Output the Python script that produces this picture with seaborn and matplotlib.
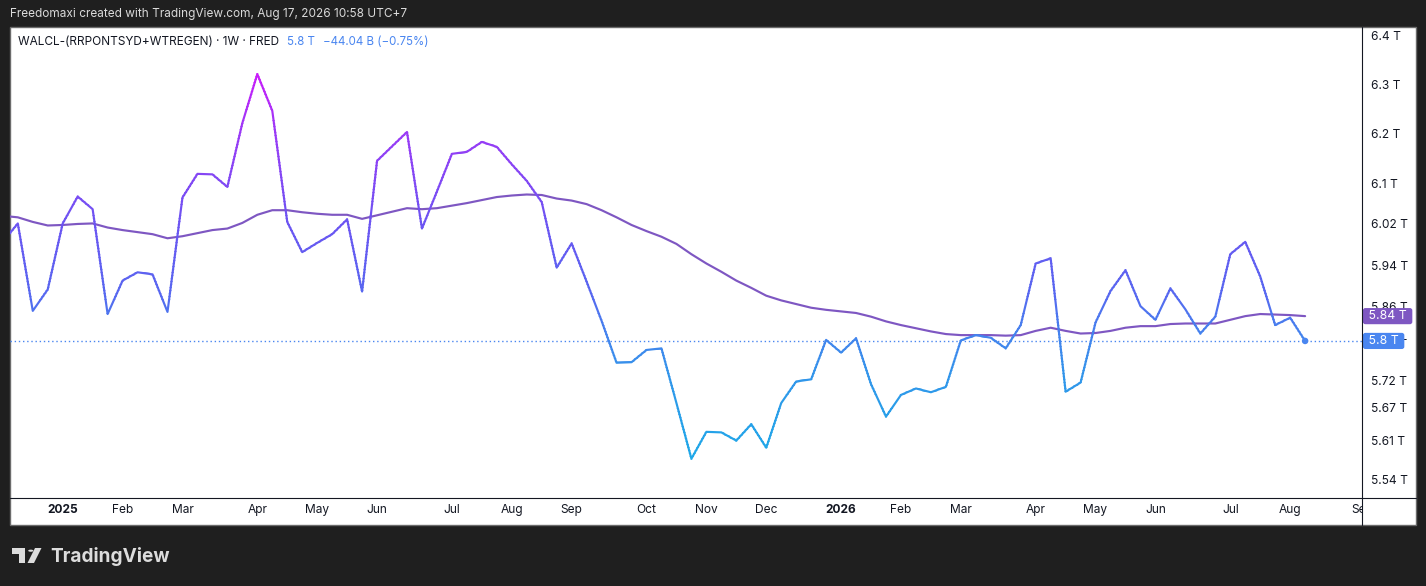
import matplotlib
matplotlib.use("Agg")
import matplotlib.pyplot as plt
import matplotlib.dates as mdates
from matplotlib.colors import LinearSegmentedColormap
from matplotlib.patches import Rectangle, Polygon, Circle
from matplotlib.lines import Line2D
from matplotlib.ticker import FixedLocator, NullLocator
from matplotlib.transforms import Bbox, blended_transform_factory, ScaledTranslation
import numpy as np
import pandas as pd
import seaborn as sns

sns.set_theme(style="white")
plt.rcParams["font.family"] = ["Inter", "DejaVu Sans"]

# weekly bars, WALCL-(RRPONTSYD+WTREGEN) in trillions
weeks = pd.date_range("2024-12-09", periods=88, freq="7D")
walcl = [
    5.985, 6.021, 5.852, 5.893, 6.021, 6.074, 6.049, 5.846, 5.910, 5.926,
    5.922, 5.850, 6.072, 6.119, 6.118, 6.093, 6.221, 6.321, 6.246, 6.024,
    5.965, 5.983, 6.000, 6.029, 5.889, 6.145, 6.174, 6.203, 6.011, 6.084,
    6.159, 6.163, 6.183, 6.173, 6.138, 6.105, 6.063, 5.935, 5.982, 5.908,
    5.833, 5.754, 5.755, 5.778, 5.781, 5.679, 5.577, 5.626, 5.625, 5.610,
    5.640, 5.597, 5.679, 5.719, 5.723, 5.797, 5.773, 5.800, 5.714, 5.654,
    5.694, 5.706, 5.699, 5.709, 5.796, 5.806, 5.801, 5.781, 5.825, 5.943,
    5.953, 5.700, 5.717, 5.830, 5.890, 5.930, 5.861, 5.835, 5.895, 5.855,
    5.809, 5.841, 5.961, 5.985, 5.918, 5.825, 5.839, 5.795,
]
# moving average line
walcl_ma = [
    6.036, 6.033, 6.024, 6.017, 6.018, 6.020, 6.021, 6.013, 6.008, 6.004,
    6.000, 5.992, 5.996, 6.002, 6.008, 6.011, 6.022, 6.038, 6.047, 6.047,
    6.043, 6.040, 6.038, 6.038, 6.030, 6.037, 6.044, 6.051, 6.049, 6.051,
    6.056, 6.061, 6.067, 6.073, 6.076, 6.078, 6.077, 6.070, 6.066, 6.059,
    6.047, 6.033, 6.018, 6.006, 5.995, 5.981, 5.961, 5.943, 5.927, 5.910,
    5.896, 5.881, 5.872, 5.865, 5.858, 5.854, 5.851, 5.848, 5.841, 5.832,
    5.825, 5.819, 5.813, 5.808, 5.806, 5.806, 5.806, 5.805, 5.806, 5.814,
    5.820, 5.814, 5.809, 5.810, 5.814, 5.820, 5.823, 5.823, 5.827, 5.828,
    5.828, 5.828, 5.835, 5.842, 5.846, 5.845, 5.844, 5.842,
]

price_ticks = [5.54, 5.61, 5.67, 5.72, 5.79, 5.86, 5.94, 6.02, 6.1, 6.2, 6.3, 6.4]
month_ticks = pd.to_datetime([
    "2025-01-06", "2025-02-03", "2025-03-03", "2025-04-07", "2025-05-05",
    "2025-06-02", "2025-07-07", "2025-08-04", "2025-09-01", "2025-10-06",
    "2025-11-03", "2025-12-01", "2026-01-05", "2026-02-02", "2026-03-02",
    "2026-04-06", "2026-05-04", "2026-06-01", "2026-07-06", "2026-08-03",
])
month_labels = ["2025", "Feb", "Mar", "Apr", "May", "Jun", "Jul", "Aug", "Sep",
                "Oct", "Nov", "Dec", "2026", "Feb", "Mar", "Apr", "May", "Jun",
                "Jul", "Aug"]
cut_tick, cut_label = pd.Timestamp("2026-09-07"), "Sep"

W, H = 1426, 586
def fx(x):
    return x / W
def fy(y):
    return 1 - y / H

BG = "#1f1f1f"
TXT = "#131722"
BLUE = "#4a86f0"
PURPLE = "#7e57c2"

fig = plt.figure(figsize=(W / 100, H / 100), dpi=100, facecolor=BG)

# white chart panel (behind the axes)
fig.patches.append(Rectangle((fx(10), fy(525)), fx(1416) - fx(10), fy(27) - fy(525),
                             transform=fig.transFigure, fc="white", ec="#6b6b6b",
                             lw=1, zorder=-5))

ax = fig.add_axes([fx(10), fy(498), fx(1362) - fx(10), fy(27) - fy(498)])
ax.set_facecolor("none")
ax.set_zorder(1)
ax.set_yscale("log")
ax.set_ylim(5.5061, 6.4187)
x0 = mdates.date2num(pd.Timestamp("2025-01-06"))
ax.set_xlim(x0 - 24.65, x0 + 607.6)
xmin, xmax = ax.get_xlim()

# moving average
sns.lineplot(x=weeks, y=walcl_ma, ax=ax, color=PURPLE, lw=1.55, zorder=2)

# gradient coloured main line (same data drawn in clipped horizontal bands)
grad = LinearSegmentedColormap.from_list("tv", [
    (0.0, "#1ea8e8"), (0.2, "#3196ea"), (0.32, "#4680ee"), (0.42, "#5866f0"),
    (0.6, "#6c54f2"), (0.84, "#9a3af6"), (1.0, "#c81cfa")])
lo, hi = min(walcl), max(walcl)
edges = np.geomspace(5.50, 6.42, 161)
for b0, b1 in zip(edges[:-1], edges[1:]):
    frac = float(np.clip((np.sqrt(b0 * b1) - lo) / (hi - lo), 0, 1))
    ln, = ax.plot(weeks, walcl, color=grad(frac), lw=1.55, zorder=3,
                  solid_joinstyle="round", solid_capstyle="round")
    clip = Rectangle((xmin, b0), xmax - xmin, (b1 - b0) * 1.3, transform=ax.transData)
    ln.set_clip_path(clip)

# last price line + dot
ax.axhline(walcl[-1], color=BLUE, lw=1.0, ls=(0, (1, 2)), zorder=1)
sns.scatterplot(x=[weeks[-1]], y=[walcl[-1]], ax=ax, color=BLUE, s=22,
                edgecolor="none", zorder=5)

for s in ax.spines.values():
    s.set_visible(False)
ax.grid(False)
ax.set_xlabel("")
ax.set_ylabel("")

ax.set_xticks(month_ticks)
ax.set_xticklabels(month_labels)
for lab in ax.get_xticklabels():
    if lab.get_text().isdigit():
        lab.set_fontweight("bold")
ax.tick_params(axis="x", length=0, pad=4.5, labelsize=8.6, labelcolor=TXT)

ax.yaxis.tick_right()
ax.yaxis.set_major_locator(FixedLocator(price_ticks))
ax.yaxis.set_minor_locator(NullLocator())
ax.set_yticklabels([f"{v:g} T" for v in price_ticks])
ax.tick_params(axis="y", length=0, pad=6.3, labelsize=8.6, labelcolor=TXT)

# cut-off month label under the price scale edge
sep = ax.text(mdates.date2num(cut_tick), 0, cut_label, ha="center", va="top",
              fontsize=8.6, color=TXT,
              transform=blended_transform_factory(ax.transData, ax.transAxes)
              + ScaledTranslation(-3 / 100, -4.5 / 72, fig.dpi_scale_trans))
sep.set_clip_on(True)
sep.set_clip_box(Bbox.from_extents(10, H - 525, 1362, H - 498))

# price scale labels
for val, col, txt in [(walcl_ma[-1], PURPLE, f" {walcl_ma[-1]:.2f} T "),
                      (walcl[-1], BLUE, f" {walcl[-1]:.1f} T ")]:
    ax.annotate(txt, xy=(1, val), xycoords=("axes fraction", "data"),
                xytext=(3, 0), textcoords="offset pixels", va="center",
                ha="left", color="white", fontsize=8.8, annotation_clip=False,
                bbox=dict(boxstyle="round,pad=0.17,rounding_size=0.2",
                          fc=col, ec="none"), zorder=10)

# axis separators
fig.lines.append(Line2D([fx(10), fx(1416)], [fy(498), fy(498)], color=TXT, lw=0.8,
                        transform=fig.transFigure, zorder=5))
fig.lines.append(Line2D([fx(1362), fx(1362)], [fy(27), fy(525)], color=TXT, lw=0.8,
                        transform=fig.transFigure, zorder=5))

# header and legend
fig.text(fx(10), fy(14), "Freedomaxi created with TradingView.com, Aug 17, 2026 10:58 UTC+7",
         color="#dadada", fontsize=8.5, va="center", ha="left")
t1 = fig.text(fx(18), fy(42), "WALCL-(RRPONTSYD+WTREGEN) · 1W · FRED", color=TXT,
              fontsize=8.5, va="center", ha="left", zorder=6)
renderer = fig.canvas.get_renderer()
x1 = t1.get_window_extent(renderer).x1
t2 = fig.text((x1 + 8) / W, fy(42), f"{walcl[-1]:.1f} T", color=BLUE, fontsize=8.3,
              va="center", ha="left", zorder=6)
x2 = t2.get_window_extent(renderer).x1
fig.text((x2 + 8) / W, fy(42), "\u221244.04 B (\u22120.75%)", color=BLUE, fontsize=8.3,
         va="center", ha="left", zorder=6)

# TradingView logo
LOGO = "#dcdcdc"
fig.patches.append(Polygon([(fx(12), fy(548)), (fx(25), fy(548)), (fx(25), fy(563)),
                            (fx(18.5), fy(563)), (fx(18.5), fy(553.5)), (fx(12), fy(553.5))],
                           closed=True, transform=fig.transFigure, fc=LOGO, ec="none"))
fig.patches.append(Circle((fx(30.8), fy(550.7)), 2.6 / W, transform=fig.transFigure,
                          fc=LOGO, ec="none"))
fig.patches.append(Polygon([(fx(35), fy(548)), (fx(41.5), fy(548)), (fx(34), fy(563)),
                            (fx(27.5), fy(563))], closed=True, transform=fig.transFigure,
                           fc=LOGO, ec="none"))
fig.text(fx(50), fy(556), "TradingView", color=LOGO, fontsize=13.7, fontweight="bold",
         va="center", ha="left")

fig.savefig("out.png", dpi=100, facecolor=BG)
